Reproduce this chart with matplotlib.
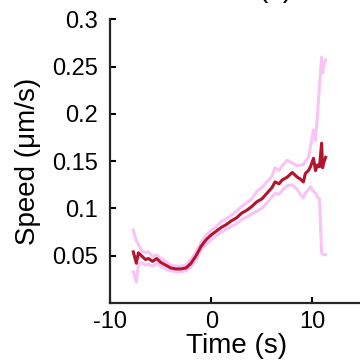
import matplotlib.pyplot as plt

plt.rcParams['font.family'] = ['Liberation Sans', 'DejaVu Sans']
plt.rcParams['axes.unicode_minus'] = False

t = [-7.7, -7.4, -7.2, -6.9, -6.5, -6.2, -5.8, -5.4, -5.0, -4.5, -4.0, -3.5, -3.0,
     -2.5, -2.0, -1.5, -1.0, -0.5, 0.0, 0.5, 1.0, 1.5, 2.0, 2.5, 3.0, 3.5, 4.0,
     4.5, 5.0, 5.5, 6.0, 6.3, 6.7, 7.0, 7.5, 8.0, 8.5, 8.8, 9.1, 9.3, 9.6, 9.8,
     10.1, 10.3, 10.5, 10.7, 10.9, 11.0, 11.1, 11.3]
speed = [0.054, 0.042, 0.053, 0.050, 0.046, 0.047, 0.044, 0.047, 0.043, 0.040,
         0.037, 0.036, 0.036, 0.037, 0.042, 0.050, 0.060, 0.067, 0.072, 0.076,
         0.080, 0.083, 0.087, 0.090, 0.095, 0.098, 0.102, 0.107, 0.110, 0.116,
         0.122, 0.128, 0.126, 0.130, 0.133, 0.138, 0.133, 0.131, 0.128, 0.137,
         0.140, 0.144, 0.153, 0.140, 0.146, 0.144, 0.169, 0.143, 0.148, 0.154]
upper = [0.077, 0.066, 0.062, 0.056, 0.053, 0.054, 0.049, 0.051, 0.047, 0.044,
         0.040, 0.039, 0.039, 0.040, 0.046, 0.054, 0.064, 0.072, 0.077, 0.081,
         0.086, 0.089, 0.093, 0.097, 0.102, 0.106, 0.110, 0.118, 0.122, 0.128,
         0.134, 0.143, 0.140, 0.145, 0.151, 0.148, 0.145, 0.146, 0.146, 0.150,
         0.154, 0.165, 0.183, 0.172, 0.200, 0.230, 0.260, 0.243, 0.250, 0.257]
lower = [0.033, 0.022, 0.040, 0.043, 0.040, 0.041, 0.039, 0.042, 0.039, 0.036,
         0.034, 0.033, 0.033, 0.034, 0.038, 0.046, 0.056, 0.062, 0.067, 0.071,
         0.075, 0.078, 0.081, 0.084, 0.088, 0.091, 0.094, 0.097, 0.100, 0.106,
         0.112, 0.116, 0.115, 0.119, 0.124, 0.125, 0.120, 0.115, 0.111, 0.116,
         0.120, 0.123, 0.118, 0.116, 0.112, 0.110, 0.053, 0.052, 0.051, 0.051]

fig = plt.figure(figsize=(3.6, 3.61), dpi=100)
ax = fig.add_axes([0.3056, 0.1607, 0.703, 0.786])

pink = '#f9c4f5'
ax.plot(t, upper, color=pink, lw=2.2)
ax.plot(t, lower, color=pink, lw=2.2)
ax.plot(t, speed, color='#b3142e', lw=2.2)

ax.set_xlim(-10, 15)
ax.set_ylim(0, 0.3)
ax.set_xticks([-10, 0, 10])
ax.set_yticks([0.05, 0.1, 0.15, 0.2, 0.25, 0.3])
ax.set_yticklabels(['0.05', '0.1', '0.15', '0.2', '0.25', '0.3'])
ax.tick_params(direction='in', length=4, width=1.5, labelsize=17)
ax.tick_params(axis='y', pad=9)
ax.tick_params(axis='x', pad=6)
for s in ['top', 'right']:
    ax.spines[s].set_visible(False)
for s in ['left', 'bottom']:
    ax.spines[s].set_linewidth(1.6)
    ax.spines[s].set_color('#262626')

ax.set_xlabel('Time (s)', fontsize=20, labelpad=0)
ax.set_ylabel('Speed (μm/s)', fontsize=20, labelpad=8)

fig.text(0.764, 1 + 3 / 361, '(b)', ha='center', va='baseline', fontsize=20)

fig.savefig('out.png', dpi=100)
